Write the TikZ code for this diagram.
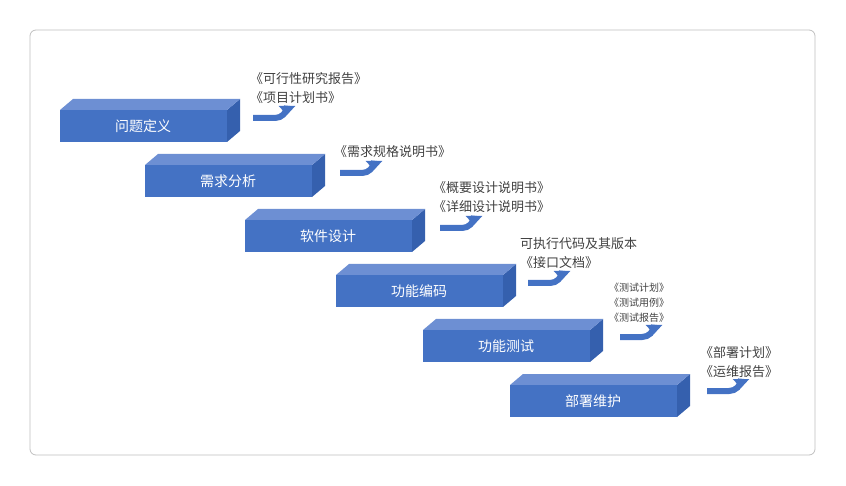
\documentclass[tikz,border=0pt]{standalone}
\usepackage{fontspec}
\setmainfont{Noto Sans CJK SC}
\usetikzlibrary{arrows.meta}
\definecolor{stepfront}{HTML}{4472C4}
\definecolor{steptop}{HTML}{6D8FD3}
\definecolor{stepside}{HTML}{3560AE}
\definecolor{doctext}{HTML}{404040}

\begin{document}
\begin{tikzpicture}[x=1pt,y=-1pt,
	stagelabel/.style={text=white,font=\fontsize{14}{16}\selectfont},
	doclabel/.style={text=doctext,anchor=west,align=left,inner sep=0pt,font=\fontsize{13}{19}\selectfont},
	flow/.style={draw=stepfront,line width=6pt,-{Triangle[length=9pt,width=16pt]}}]

\useasboundingbox (0,0) rectangle (846,486);
\draw[color=black!25,line width=0.8pt,rounded corners=6pt] (30,30) rectangle (815,455);

\foreach \x/\y/\t [count=\i] in {60/110/问题定义,145/165/需求分析,245/220/软件设计,336/275/功能编码,423/330/功能测试,510/385/部署维护}{
	\fill[stepside] (\x+167,\y) -- (\x+180,\y-11) -- (\x+180,\y+21) -- (\x+167,\y+32) -- cycle;
	\fill[steptop] (\x,\y) -- (\x+13,\y-11) -- (\x+180,\y-11) -- (\x+167,\y) -- cycle;
	\fill[stepfront] (\x,\y) rectangle (\x+167,\y+32);
	\node[stagelabel] (s\i) at (\x+83,\y+16) {\t};
}

\foreach \x/\y [count=\i] in {253/118,340/173,440/228,528/283,620/337,707/391}{
	\coordinate (a\i) at (\x,\y);
	\draw[flow] (a\i) -- ++(22,0) arc[start angle=90,end angle=0,radius=12] -- ++(0,9);
}

\node[doclabel] (d1) at (250,88) {《可行性研究报告》\\《项目计划书》};
\node[doclabel] (d2) at (334,152) {《需求规格说明书》};
\node[doclabel] (d3) at (433,197) {《概要设计说明书》\\《详细设计说明书》};
\node[doclabel] (d4) at (520,253) {可执行代码及其版本\\《接口文档》};
\node[doclabel,font=\fontsize{10}{15}\selectfont] (d5) at (609,303) {《测试计划》\\《测试用例》\\《测试报告》};
\node[doclabel] (d6) at (700,362) {《部署计划》\\《运维报告》};

\end{tikzpicture}
\end{document}
